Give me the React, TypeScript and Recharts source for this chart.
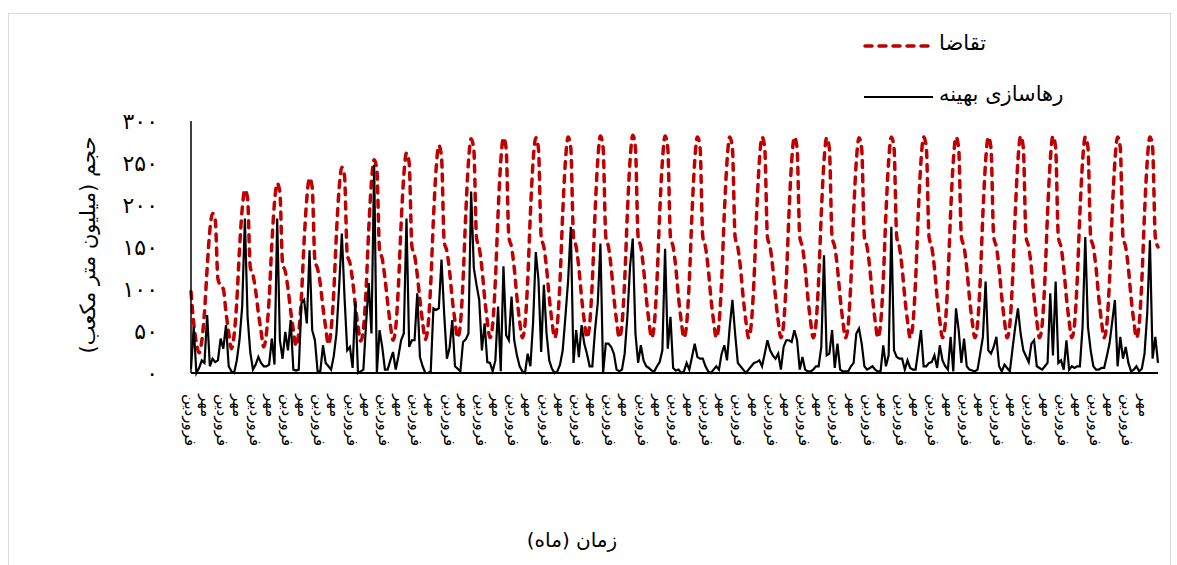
import { Legend, Line, LineChart, XAxis, YAxis } from "recharts";

// Persian month names, one category per month over 30 years
const monthNames = [
  "فروردین",
  "اردیبهشت",
  "خرداد",
  "تیر",
  "مرداد",
  "شهریور",
  "مهر",
  "آبان",
  "آذر",
  "دی",
  "بهمن",
  "اسفند",
];

const yTicks = [0, 50, 100, 150, 200, 250, 300];
const yTickLabels = ["۰", "۵۰", "۱۰۰", "۱۵۰", "۲۰۰", "۲۵۰", "۳۰۰"];

// تقاضا (demand), one row per year
const demand = [
  [97, 60, 36, 24, 38, 72, 125, 170, 190, 182, 112, 104],
  [100, 72, 48, 29, 45, 85, 147, 195, 218, 208, 126, 117],
  [98, 72, 50, 31, 47, 88, 153, 203, 226, 215, 130, 121],
  [101, 74, 51, 32, 48, 91, 157, 208, 232, 221, 134, 124],
  [106, 78, 54, 34, 51, 96, 166, 220, 245, 234, 141, 131],
  [110, 81, 56, 38, 52, 99, 172, 228, 254, 242, 146, 136],
  [113, 84, 58, 39, 54, 103, 177, 235, 262, 250, 151, 140],
  [117, 87, 60, 40, 56, 106, 183, 243, 271, 258, 156, 145],
  [121, 88, 62, 42, 58, 110, 189, 251, 279, 266, 161, 149],
  [125, 90, 62, 42, 58, 110, 190, 252, 280, 267, 162, 150],
  [125, 90, 62, 42, 58, 110, 190, 252, 280, 267, 162, 150],
  [125, 90, 62, 42, 58, 110, 190, 252, 281, 268, 162, 150],
  [125, 90, 62, 42, 58, 110, 190, 253, 282, 268, 162, 150],
  [125, 90, 62, 42, 58, 110, 190, 253, 283, 268, 162, 150],
  [125, 90, 62, 42, 58, 110, 190, 252, 282, 268, 162, 150],
  [125, 90, 62, 42, 58, 110, 190, 252, 281, 268, 162, 150],
  [125, 90, 62, 42, 58, 110, 190, 252, 281, 268, 162, 150],
  [125, 90, 62, 42, 58, 110, 190, 252, 281, 268, 162, 150],
  [125, 90, 62, 42, 58, 110, 190, 252, 281, 268, 162, 150],
  [125, 90, 62, 42, 58, 110, 190, 252, 280, 267, 162, 150],
  [125, 90, 62, 42, 58, 110, 190, 252, 280, 267, 162, 150],
  [125, 90, 62, 42, 58, 110, 190, 252, 281, 268, 162, 150],
  [125, 90, 62, 42, 58, 110, 190, 252, 281, 268, 162, 150],
  [125, 90, 62, 42, 58, 110, 190, 252, 281, 268, 162, 150],
  [125, 90, 62, 42, 58, 110, 190, 252, 281, 268, 162, 150],
  [125, 90, 62, 42, 58, 110, 190, 253, 282, 268, 162, 150],
  [125, 90, 62, 42, 58, 110, 190, 253, 282, 268, 162, 150],
  [125, 90, 62, 42, 58, 110, 190, 252, 281, 268, 162, 150],
  [125, 90, 62, 42, 58, 110, 190, 252, 281, 268, 162, 150],
  [125, 90, 62, 42, 58, 110, 190, 252, 281, 268, 162, 150],
];

// رهاسازی بهینه (optimal release), one row per year
const release = [
  [5, 55, 0, 6, 15, 12, 69, 8, 17, 13, 15, 41],
  [29, 57, 8, 2, 0, 15, 39, 79, 184, 67, 25, 4],
  [10, 19, 12, 8, 8, 10, 41, 10, 184, 39, 17, 49],
  [27, 63, 4, 3, 4, 83, 87, 59, 146, 51, 39, 2],
  [2, 33, 12, 8, 4, 20, 47, 103, 166, 90, 27, 31],
  [6, 85, 0, 2, 4, 59, 107, 47, 248, 0, 51, 31],
  [4, 4, 15, 25, 4, 20, 39, 47, 184, 31, 39, 39],
  [95, 19, 8, 0, 0, 2, 77, 75, 77, 135, 70, 17],
  [30, 63, 8, 5, 2, 37, 40, 47, 216, 125, 105, 87],
  [27, 59, 13, 12, 2, 15, 79, 2, 127, 45, 39, 91],
  [39, 21, 8, 2, 0, 23, 8, 60, 144, 111, 25, 105],
  [47, 15, 5, 0, 2, 10, 27, 67, 110, 174, 12, 51],
  [19, 57, 35, 23, 8, 8, 51, 83, 154, 0, 35, 35],
  [31, 23, 4, 2, 4, 23, 67, 127, 160, 47, 12, 33],
  [15, 8, 6, 3, 2, 8, 13, 27, 148, 29, 67, 6],
  [3, 4, 0, 2, 12, 4, 19, 35, 19, 17, 17, 8],
  [2, 0, 4, 8, 4, 23, 33, 15, 55, 87, 47, 12],
  [8, 4, 0, 4, 8, 12, 13, 15, 8, 23, 39, 27],
  [21, 17, 23, 4, 31, 39, 39, 37, 51, 39, 4, 19],
  [4, 2, 2, 4, 8, 8, 31, 140, 21, 23, 51, 6],
  [35, 4, 2, 2, 2, 8, 12, 47, 53, 35, 8, 4],
  [6, 8, 4, 2, 2, 33, 8, 21, 174, 27, 19, 17],
  [17, 4, 15, 6, 4, 4, 27, 51, 8, 8, 12, 13],
  [21, 6, 33, 15, 8, 4, 43, 2, 77, 51, 12, 41],
  [8, 4, 3, 2, 4, 23, 43, 109, 27, 23, 31, 43],
  [8, 2, 10, 6, 2, 29, 55, 77, 47, 27, 20, 13],
  [35, 39, 8, 6, 4, 8, 12, 95, 21, 109, 12, 15],
  [4, 39, 4, 8, 6, 8, 8, 55, 162, 55, 27, 8],
  [4, 4, 6, 6, 20, 35, 61, 87, 8, 43, 17, 31],
  [12, 2, 4, 8, 2, 5, 23, 71, 158, 17, 43, 12],
];

const data = demand.flatMap((row, year) =>
  row.map((value, m) => ({
    i: year * 12 + m,
    month: monthNames[m],
    demand: value,
    release: release[year][m],
  }))
);

const FONT = "DejaVu Sans";
const RED = "#C00000";

function MonthTick({ x, y, payload }: any) {
  return (
    <text
      x={x}
      y={y}
      dx={13}
      dy="0.4em"
      transform={`rotate(90, ${x}, ${y})`}
      textAnchor="start"
      fontSize={15}
      fontFamily={FONT}
      fill="#000"
    >
      {monthNames[payload.value % 12]}
    </text>
  );
}

function LegendBox() {
  return (
    <div style={{ position: "relative", width: 260, height: 80, fontFamily: FONT, fontSize: 21 }}>
      <svg width={72} height={80} style={{ position: "absolute", left: 0, top: 0 }}>
        <line x1={3} y1={18} x2={70} y2={18} stroke={RED} strokeWidth={3.5} strokeDasharray="7 7" strokeLinecap="round" />
        <line x1={2} y1={69} x2={71} y2={69} stroke="#000" strokeWidth={2} />
      </svg>
      <div style={{ position: "absolute", left: 77, top: 3, whiteSpace: "nowrap", direction: "rtl" }}>تقاضا</div>
      <div style={{ position: "absolute", left: 77, top: 54, whiteSpace: "nowrap", direction: "rtl" }}>رهاسازی بهینه</div>
    </div>
  );
}

export default function App() {
  return (
    <div style={{ position: "absolute", left: 0, top: 0, width: 1177, height: 565, background: "#fff" }}>
      <div
        style={{
          position: "absolute",
          left: 8,
          top: 13,
          width: 1161,
          height: 560,
          border: "1px solid #d9d9d9",
        }}
      />
      <LineChart
        width={1177}
        height={565}
        data={data}
        margin={{ top: 121, right: 19, bottom: 102, left: 131 }}
      >
        <XAxis
          dataKey="i"
          type="category"
          interval={5}
          tick={<MonthTick />}
          tickLine={false}
          axisLine={{ stroke: "#000", strokeWidth: 2 }}
          height={90}
        />
        <YAxis
          domain={[0, 300]}
          ticks={yTicks}
          tickFormatter={(v: number) => yTickLabels[yTicks.indexOf(v)]}
          tick={{ fontSize: 22, fill: "#000", fontFamily: FONT }}
          tickLine={false}
          tickSize={0}
          tickMargin={33}
          axisLine={{ stroke: "#000", strokeWidth: 1.5 }}
          width={60}
        />
        <Legend
          layout="vertical"
          align="center"
          verticalAlign="middle"
          wrapperStyle={{ top: 28, left: 862, width: 260, height: 80 }}
          content={() => <LegendBox />}
        />
        <Line
          type="monotone"
          dataKey="demand"
          stroke={RED}
          strokeWidth={3.5}
          strokeDasharray="7 7"
          strokeLinecap="round"
          dot={false}
          isAnimationActive={false}
          name="تقاضا"
        />
        <Line
          type="linear"
          dataKey="release"
          stroke="#000"
          strokeWidth={2.2}
          dot={false}
          isAnimationActive={false}
          name="رهاسازی بهینه"
        />
      </LineChart>
      <div
        style={{
          position: "absolute",
          left: 88,
          top: 245,
          transform: "translate(-50%, -50%) rotate(-90deg)",
          whiteSpace: "nowrap",
          direction: "rtl",
          fontFamily: FONT,
          fontSize: 21,
        }}
      >
        حجم (میلیون متر مکعب)
      </div>
      <div
        style={{
          position: "absolute",
          left: 572,
          top: 540,
          transform: "translate(-50%, -50%)",
          whiteSpace: "nowrap",
          direction: "rtl",
          fontFamily: FONT,
          fontSize: 20,
        }}
      >
        زمان (ماه)
      </div>
    </div>
  );
}
